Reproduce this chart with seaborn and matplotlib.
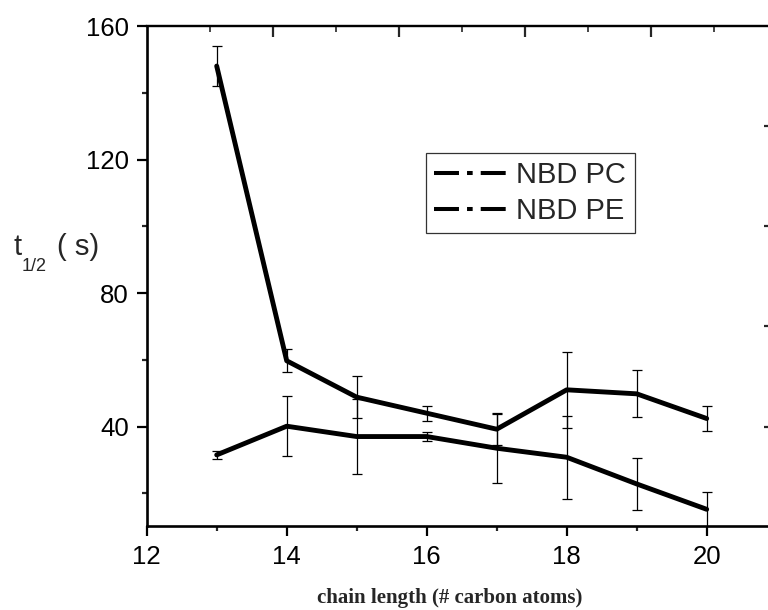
import matplotlib
matplotlib.use("Agg")
import matplotlib.pyplot as plt
from matplotlib.lines import Line2D
import numpy as np
import pandas as pd
import seaborn as sns

# Half-time of transfer vs. acyl chain length
chain_length = [13, 14, 15, 16, 17, 18, 19, 20]
pc_t_half = [148.0, 59.7, 48.8, 44.0, 39.2, 51.0, 49.8, 42.4]
pc_err = [6.0, 3.4, 6.2, 2.3, 4.8, 11.3, 7.0, 3.8]
pe_t_half = [31.5, 40.1, 37.0, 37.0, 33.5, 30.8, 22.8, 15.2]
pe_err = [1.2, 8.9, 11.3, 1.3, 10.3, 12.5, 7.7, 5.3]
series_names = ["NBD PC", "NBD PE"]

x_ticks = [12, 14, 16, 18, 20]
y_ticks = [40, 80, 120, 160]

sns.set_style("ticks")
plt.rcParams["font.family"] = ["Liberation Sans", "DejaVu Sans"]

df = pd.DataFrame({
    "chain": chain_length * 2,
    "t_half": pc_t_half + pe_t_half,
    "err": pc_err + pe_err,
    "lipid": [series_names[0]] * len(chain_length) + [series_names[1]] * len(chain_length),
})

W, H = 768, 610
fig = plt.figure(figsize=(W / 100, H / 100), dpi=100)
ax = fig.add_axes([146.7 / W, 84 / H, 1 - 146.7 / W, 500 / H])

for name in series_names:
    sub = df[df["lipid"] == name]
    ax.errorbar(sub["chain"], sub["t_half"], yerr=sub["err"], fmt="none",
                ecolor="black", elinewidth=0.9, capsize=3.3, capthick=0.9, zorder=2)

sns.lineplot(data=df, x="chain", y="t_half", units="lipid", estimator=None,
             color="black", lw=3.5, ax=ax, legend=False, zorder=3)

ax.set_xlim(12, 12 + (W - 146.7) / 70)
ax.set_ylim(10.2, 160)
ax.set_xticks(x_ticks)
ax.set_xticks([13, 15, 17, 19], minor=True)
ax.set_yticks(y_ticks)
ax.set_yticks([20, 60, 100, 140], minor=True)
ax.tick_params(axis="both", which="major", direction="out", length=7, width=1.6,
               labelsize=18.5, colors="black", pad=6)
ax.tick_params(axis="both", which="minor", direction="out", length=3.5, width=1.6)
ax.tick_params(axis="x", which="major", pad=7)
ax.set_xlabel("")
ax.set_ylabel("")

for side in ["left", "bottom"]:
    ax.spines[side].set_linewidth(1.9)
    ax.spines[side].set_color("black")
ax.spines["top"].set_visible(True)
ax.spines["top"].set_linewidth(1.6)
ax.spines["top"].set_color("black")
ax.spines["right"].set_visible(False)

# ticks along the top edge
top = ax.secondary_xaxis("top")
top.set_xticks([13.8, 15.6, 17.4, 19.2])
top.set_xticks([12.9, 14.7, 16.5, 18.3, 20.1], minor=True)
top.tick_params(which="major", direction="in", length=8, width=1.6, labeltop=False)
top.tick_params(which="minor", direction="in", length=4.5, width=1.2, labeltop=False)
top.spines["top"].set_linewidth(1.6)

# short ticks along the right edge
right = ax.secondary_yaxis("right")
right.set_yticks([40, 70, 100, 130])
right.tick_params(direction="in", length=3, width=1.6, labelright=False)
right.spines["right"].set_visible(False)

handles = [Line2D([], [], color="black", lw=2.9, ls=(0, (6.2, 2.0, 1.4, 2.0)))
           for _ in series_names]
leg = ax.legend(handles, series_names, loc="upper left",
                bbox_to_anchor=(0.449, 0.7466), borderaxespad=0,
                fontsize=21, handlelength=2.45, handletextpad=0.35,
                labelspacing=0.25, borderpad=0.3, frameon=True, fancybox=False)
leg.get_frame().set_edgecolor("black")
leg.get_frame().set_linewidth(0.9)

# y-axis title: t with a lowered 1/2 subscript, then the unit
fig.text(13 / W, (H - 255) / H, "t", fontsize=21, ha="left", va="baseline")
fig.text(21.5 / W, (H - 271) / H, "1/2", fontsize=13, ha="left", va="baseline")
fig.text(57 / W, (H - 255) / H, "( s)", fontsize=21, ha="left", va="baseline")

fig.text(450 / W, (H - 603) / H, "chain length (# carbon atoms)",
         fontsize=15, fontweight="bold", family=["Liberation Serif", "DejaVu Serif"],
         ha="center", va="baseline")

fig.savefig("out.png", dpi=100)
